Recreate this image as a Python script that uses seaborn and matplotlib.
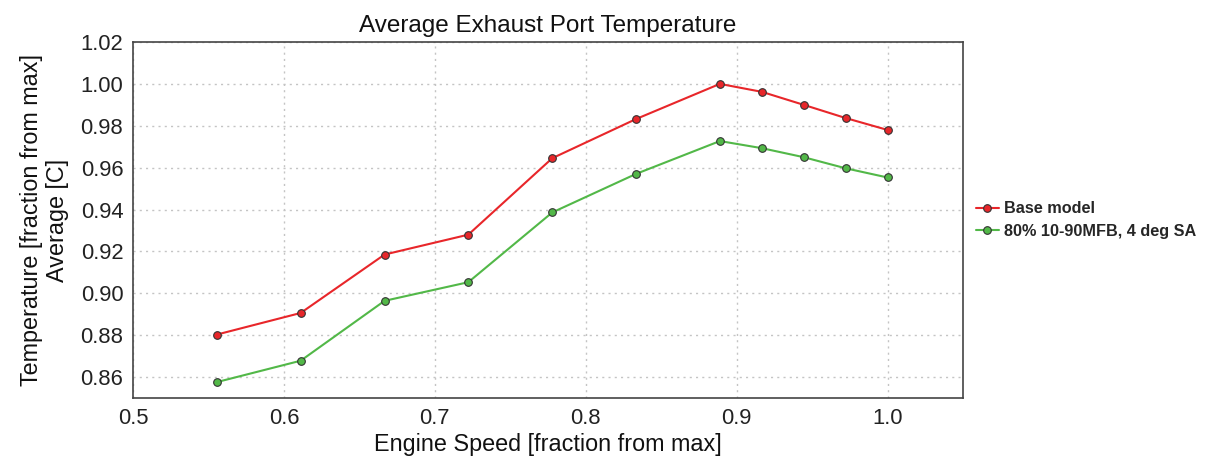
import numpy as np
import pandas as pd
import matplotlib
matplotlib.use("Agg")
import matplotlib.pyplot as plt
import seaborn as sns

speed = [0.5556, 0.6111, 0.6667, 0.7222, 0.7778, 0.8333, 0.8889, 0.9167, 0.9444, 0.9722, 1.0]
base_model = [0.8803, 0.8906, 0.9185, 0.9280, 0.9645, 0.9832, 1.0000, 0.9962, 0.9900, 0.9837, 0.9780]
mfb_model = [0.8576, 0.8678, 0.8964, 0.9053, 0.9386, 0.9570, 0.9727, 0.9693, 0.9650, 0.9597, 0.9553]
series_names = ["Base model", "80% 10-90MFB, 4 deg SA"]
colors = ["#e8262a", "#52b848"]

df = pd.concat([
    pd.DataFrame({"speed": speed, "temp": base_model, "series": series_names[0]}),
    pd.DataFrame({"speed": speed, "temp": mfb_model, "series": series_names[1]}),
])

sns.set_theme(style="white")
plt.rcParams['font.family'] = ['Liberation Sans', 'DejaVu Sans']

fig = plt.figure(figsize=(12.07, 4.59), dpi=100)
ax = fig.add_axes([133/1207, 1-398/459, (963-133)/1207, (398-42)/459])

sns.lineplot(data=df, x="speed", y="temp", hue="series", palette=colors,
             marker="o", markersize=5.5, markeredgecolor="#333333", markeredgewidth=0.8,
             linewidth=1.5, ax=ax, sort=False)

ax.set_xlim(0.5, 1.05)
ax.set_ylim(0.85, 1.02)
ax.set_xticks([0.5, 0.6, 0.7, 0.8, 0.9, 1.0])
ax.set_xticklabels(["0.5", "0.6", "0.7", "0.8", "0.9", "1.0"])
ax.set_yticks(np.arange(0.86, 1.021, 0.02))
ax.yaxis.set_major_formatter(matplotlib.ticker.FormatStrFormatter("%.2f"))
ax.tick_params(axis="both", direction="in", length=5, width=1, colors="#555555",
               labelsize=15.8, labelcolor="#222222", pad=7)
ax.grid(True, linestyle=(0, (1.5, 3)), color="#c4c4c4", linewidth=1)
for s in ax.spines.values():
    s.set_color("#444444")
    s.set_linewidth(1.2)

ax.set_title("Average Exhaust Port Temperature", fontsize=17.5, color="#111111", pad=7)
ax.set_xlabel("Engine Speed [fraction from max]", fontsize=16.8, color="#111111", labelpad=3)
ax.set_ylabel("Temperature [fraction from max]\nAverage [C]", fontsize=16.8, color="#111111",
              labelpad=8, linespacing=1.15)

leg = ax.legend(loc="center left", bbox_to_anchor=(1.0, 0.5), frameon=False,
                prop={"weight": "bold", "size": 11.7}, handlelength=1.4,
                handletextpad=0.3, borderaxespad=0.4, labelspacing=0.45)

fig.savefig("out.png", dpi=100)
